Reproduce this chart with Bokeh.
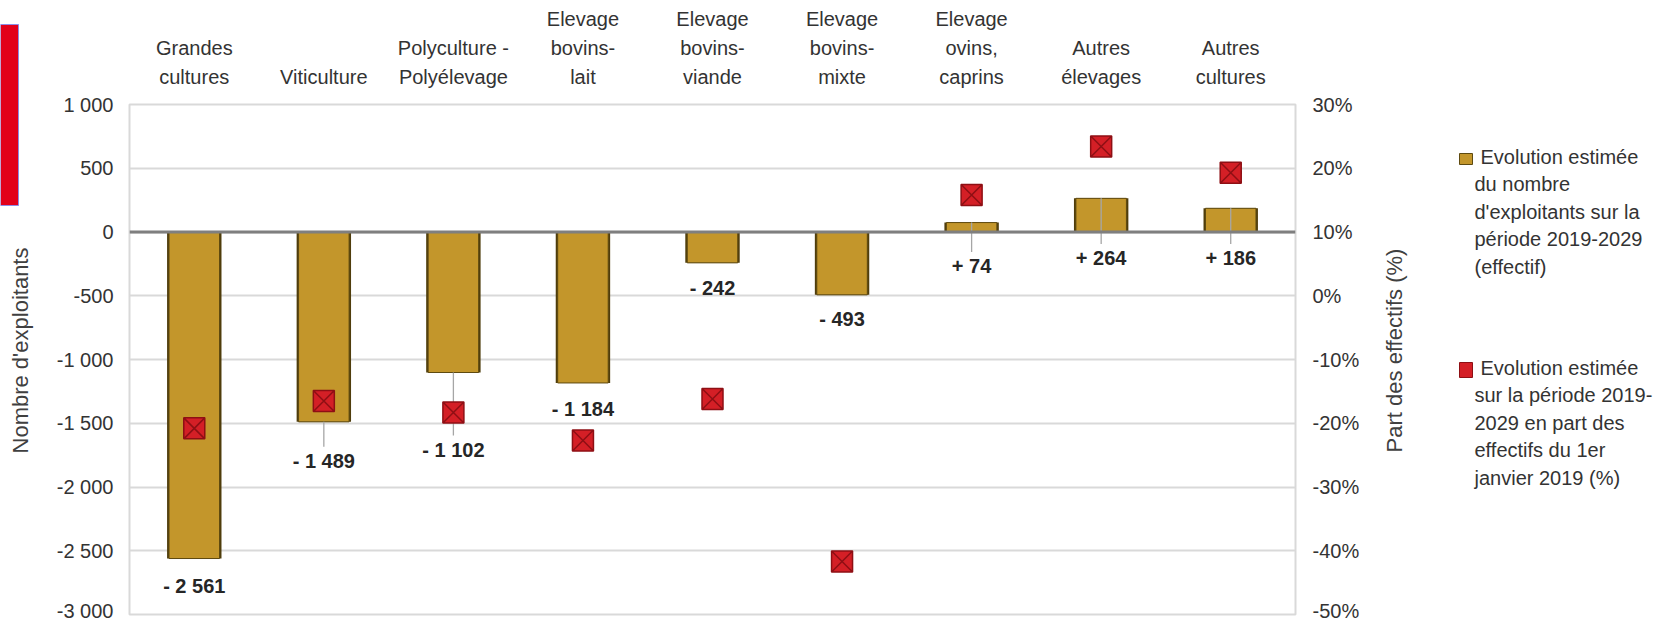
import math
from bokeh.plotting import figure
from bokeh.layouts import row
from bokeh.models import FactorRange, Range1d, LinearAxis, FixedTicker, ColumnDataSource, Span
from bokeh.core.properties import value
from bokeh.embed import file_html
from bokeh.resources import INLINE

# ---------------- data ----------------
categories = ["Grandes\ncultures", "Viticulture", "Polyculture -\nPolyélevage",
              "Elevage\nbovins-\nlait", "Elevage\nbovins-\nviande", "Elevage\nbovins-\nmixte",
              "Elevage\novins,\ncaprins", "Autres\nélevages", "Autres\ncultures"]
evolution = [-2561, -1489, -1102, -1184, -242, -493, 74, 264, 186]
part_pct = [-20.8, -16.5, -18.3, -22.7, -16.2, -41.7, 15.8, 23.4, 19.3]
value_labels = ["- 2 561", "- 1 489", "- 1 102", "- 1 184", "- 242", "- 493", "+ 74", "+ 264", "+ 186"]

left_ticks = [1000, 500, 0, -500, -1000, -1500, -2000, -2500, -3000]
left_tick_labels = ["1 000", "500", "0", "-500", "-1 000", "-1 500", "-2 000", "-2 500", "-3 000"]
right_ticks = [30, 20, 10, 0, -10, -20, -30, -40, -50]
right_tick_labels = ["30%", "20%", "10%", "0%", "-10%", "-20%", "-30%", "-40%", "-50%"]

legend_bar = ["Evolution estimée", "du nombre", "d'exploitants sur la", "période 2019-2029", "(effectif)"]
legend_pct = ["Evolution estimée", "sur la période 2019-", "2029 en part des", "effectifs du 1er", "janvier 2019 (%)"]
y_title = "Nombre d'exploitants"
y2_title = "Part des effectifs (%)"

# ---------------- layout / style ----------------
FONT = "Liberation Sans"
H = 621
X_LEFT, X_MAIN, X_LEG, X_END = 0, 34, 1380, 1654   # page x where each panel starts / ends
FL, FR, FT, FB = 129, 1295, 104, 614               # frame edges of main chart (page px)
Y_MIN, Y_MAX = -3000, 1000
P_MIN, P_MAX = -50, 30
GOLD, GOLD_EDGE = "#C3962B", "#5E4A10"
RED, RED_EDGE = "#D41F26", "#8E0F14"
TXT = "#333333"
FS = "20px"

units_per_px = (Y_MAX - Y_MIN) / (FB - FT)
label_dy = [27, 39, 77, 26, 25, 24, 34, 26, 26]     # pixel offset of value labels below anchor
leader_idx = [1, 2, 6, 7, 8]


def no_align(f):
    if "frame_align" in f.properties():
        f.frame_align = False


def blank_fig(x0, x1):
    f = figure(width=x1 - x0, height=H, x_range=Range1d(x0, x1), y_range=Range1d(H, 0),
               x_axis_type=None, y_axis_type=None, output_backend="svg", toolbar_location=None,
               min_border=0, min_border_left=0, min_border_right=0, min_border_top=0,
               min_border_bottom=0)
    f.outline_line_color = None
    f.background_fill_color = "white"
    f.border_fill_color = "white"
    no_align(f)
    return f


# ---- left strip: decoration + left axis title ----
lf = blank_fig(X_LEFT, X_MAIN)
lf.quad(left=[0], right=[18], top=[24], bottom=[205], fill_color="#E2001A",
        line_color="#8C8CE6", line_width=1)
lf.text(x=[20], y=[350], text=[y_title], angle=math.pi / 2, text_align="center",
        text_baseline="middle", text_font=value(FONT), text_font_size="22px", text_color="#404040")

# ---- main chart ----
W_MAIN = X_LEG - X_MAIN
p = figure(width=W_MAIN, height=H, x_range=FactorRange(*categories), y_range=Range1d(Y_MIN, Y_MAX),
           x_axis_location="above", output_backend="svg", toolbar_location=None,
           min_border_left=FL - X_MAIN, min_border_right=X_LEG - FR,
           min_border_top=FT, min_border_bottom=H - FB)
no_align(p)
p.background_fill_color = "white"
p.border_fill_color = "white"
p.outline_line_color = "#D9D9D9"
p.outline_line_width = 2

yl = p.left[0]
yl.ticker = FixedTicker(ticks=left_ticks)
yl.major_label_overrides = dict(zip(left_ticks, left_tick_labels))
yl.major_label_standoff = 16

p.extra_y_ranges = {"pct": Range1d(P_MIN, P_MAX)}
yr = LinearAxis(y_range_name="pct", ticker=FixedTicker(ticks=right_ticks))
yr.major_label_overrides = dict(zip(right_ticks, right_tick_labels))
yr.major_label_standoff = 17
p.add_layout(yr, "right")

xa = p.above[0]
xa.major_label_standoff = 17
xa.major_label_text_line_height = 1.3

for ax in (yl, yr, xa):
    ax.axis_line_color = None
    ax.major_tick_line_color = None
    ax.minor_tick_line_color = None
    ax.major_tick_out = 0
    ax.major_tick_in = 0
    ax.major_label_text_font = FONT
    ax.major_label_text_font_size = FS
    ax.major_label_text_color = TXT

p.xgrid.grid_line_color = None
p.ygrid.grid_line_color = "#D9D9D9"
p.ygrid.grid_line_width = 2

anchor = [min(v, 0) for v in evolution]
src = ColumnDataSource(dict(cat=categories, evo=evolution, pct=part_pct, lab=value_labels,
                            anchor=anchor, dy=label_dy))

p.vbar(x="cat", top="evo", bottom=0, width=0.42, source=src,
       fill_color="#4F3D0C", line_color=None)
p.vbar(x="cat", top="evo", bottom=0, width=0.39, source=src,
       fill_color=GOLD, line_color=GOLD_EDGE, line_width=1)

# leader lines
p.segment(x0=[categories[i] for i in leader_idx], y0=[evolution[i] for i in leader_idx],
          x1=[categories[i] for i in leader_idx],
          y1=[anchor[i] - (label_dy[i] - 14) * units_per_px for i in leader_idx],
          line_color="#A6A6A6", line_width=1.3)

p.scatter(x="cat", y="pct", y_range_name="pct", marker="square_x", size=21, source=src,
          fill_color=RED, line_color=RED_EDGE, line_width=1.5)

p.text(x="cat", y="anchor", text="lab", y_offset="dy", source=src, text_align="center",
       text_baseline="middle", text_font=value(FONT), text_font_style="bold",
       text_font_size=FS, text_color="#262626")

p.add_layout(Span(location=0, dimension="width", line_color="#7F7F7F", line_width=3))

# ---- right strip: right axis title + legend ----
rf = blank_fig(X_LEG, X_END)
rf.text(x=[1394], y=[350], text=[y2_title], angle=math.pi / 2, text_align="center",
        text_baseline="middle", text_font=value(FONT), text_font_size="22px", text_color="#404040")
rf.quad(left=[1459], right=[1472], top=[153], bottom=[164], fill_color=GOLD,
        line_color=GOLD_EDGE, line_width=1)
rf.quad(left=[1459], right=[1472], top=[362], bottom=[377], fill_color=RED,
        line_color=RED_EDGE, line_width=1)
for lines, y0 in ((legend_bar, 156), (legend_pct, 367)):
    rf.text(x=[1480 if i == 0 else 1474 for i in range(len(lines))],
            y=[y0 + i * 27.6 for i in range(len(lines))], text=lines,
            text_align="left", text_baseline="middle", text_font=value(FONT),
            text_font_size=FS, text_color=TXT)

layout = row(lf, p, rf)
open("out.html", "w").write(file_html(layout, INLINE))
